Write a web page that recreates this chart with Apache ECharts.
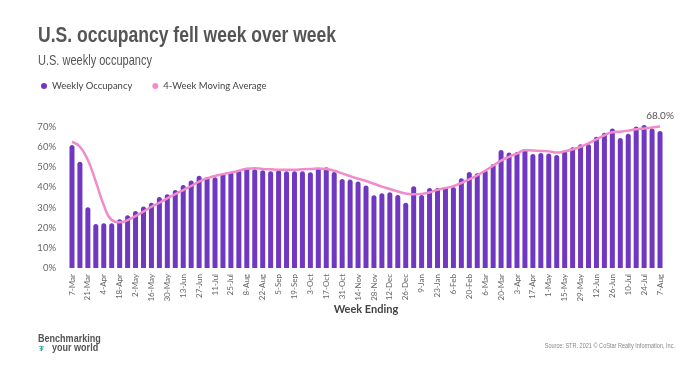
<!DOCTYPE html>
<html>
<head>
<meta charset="utf-8">
<script src="https://cdn.jsdelivr.net/npm/echarts@6/dist/echarts.min.js"></script>
<style>html,body{margin:0;padding:0;background:#fff}#c{width:700px;height:367px}</style>
</head>
<body>
<div id="c"></div>
<script>
const weeks = ['7-Mar','14-Mar','21-Mar','28-Mar','4-Apr','11-Apr','18-Apr','25-Apr','2-May','9-May','16-May','23-May','30-May','6-Jun','13-Jun','20-Jun','27-Jun','4-Jul','11-Jul','18-Jul','25-Jul','1-Aug','8-Aug','15-Aug','22-Aug','29-Aug','5-Sep','12-Sep','19-Sep','26-Sep','3-Oct','10-Oct','17-Oct','24-Oct','31-Oct','7-Nov','14-Nov','21-Nov','28-Nov','5-Dec','12-Dec','19-Dec','26-Dec',
'2-Jan','9-Jan','16-Jan','23-Jan','30-Jan','6-Feb','13-Feb','20-Feb','27-Feb','6-Mar','13-Mar','20-Mar','27-Mar','3-Apr','10-Apr','17-Apr','24-Apr','1-May','8-May','15-May','22-May','29-May','5-Jun','12-Jun','19-Jun','26-Jun','3-Jul','10-Jul','17-Jul','24-Jul','31-Jul','7-Aug'];
const weeklyOccupancy = [61.1,52.8,30.1,21.8,22.2,22.2,24.2,26.2,28.3,30.5,32.4,35.3,36.6,38.7,41.2,43.4,45.8,45.2,45.0,47.0,47.7,48.5,49.8,49.0,48.5,48.0,48.5,48.0,48.0,48.0,47.5,49.8,50.0,47.7,44.2,43.9,43.0,41.0,36.1,37.1,37.6,36.2,32.4,
40.6,36.2,39.7,39.7,40.2,40.2,44.5,47.7,47.0,48.5,51.6,58.6,57.3,57.6,59.1,56.6,57.1,56.8,56.1,58.3,59.9,61.4,61.4,65.2,67.2,69.2,64.5,66.7,70.2,71.0,69.2,68.0];
const movingAverage = [62.7,60.2,53.6,42.9,31.3,23.8,22.7,23.8,25.8,28.0,30.4,32.4,34.6,36.7,38.7,40.7,42.9,44.5,45.7,46.6,47.4,48.3,49.3,49.5,49.2,49.0,48.8,48.8,48.8,49.0,49.2,49.4,49.2,48.3,47.0,45.6,44.3,43.2,41.8,40.4,39.2,38.0,37.0,
36.6,36.8,37.5,38.8,39.7,40.6,42.2,44.0,46.0,48.3,50.8,53.3,55.2,56.8,58.5,58.3,58.1,57.9,57.3,57.9,58.9,60.2,61.9,63.9,65.9,67.4,67.7,68.2,68.9,69.2,69.7,70.2];
const yTicks = [0,10,20,30,40,50,60,70];

const barData = weeklyOccupancy.map((v,i)=> i===weeklyOccupancy.length-1
  ? {value:v, label:{show:true, position:'top', distance:10, formatter:(p)=>p.value.toFixed(1)+'%', color:'#555', fontSize:10, fontFamily:'Lato'}}
  : v);

const NARROW = 'Liberation Sans, Arial, sans-serif';
const chart = echarts.init(document.getElementById('c'), null, {renderer:'canvas'});
chart.setOption({
  animation:false,
  backgroundColor:'#fff',
  graphic:[
    {type:'text', x:38, y:25, scaleX:0.815, silent:true,
     style:{text:'U.S. occupancy fell week over week', fontFamily:NARROW, fontWeight:'bold', fontSize:21.5, fill:'#555', verticalAlign:'top'}},
    {type:'text', x:38, y:53, scaleX:0.76, silent:true,
     style:{text:'U.S. weekly occupancy', fontFamily:NARROW, fontWeight:'normal', fontSize:14.5, fill:'#555', verticalAlign:'top'}},
    {type:'text', x:38, y:334, scaleX:0.86, silent:true,
     style:{text:'Benchmarking', fontFamily:NARROW, fontWeight:'bold', fontSize:10.5, fill:'#555', verticalAlign:'top'}},
    {type:'text', x:52, y:343, scaleX:0.86, silent:true,
     style:{text:'your world', fontFamily:NARROW, fontWeight:'bold', fontSize:10.5, fill:'#555', verticalAlign:'top'}},
    {type:'text', x:39, y:345, silent:true,
     style:{text:'₮', fontFamily:NARROW, fontWeight:'bold', fontSize:8, fill:'#2ab3a6', verticalAlign:'top'}},
    {type:'text', x:675, y:342, scaleX:0.74, silent:true,
     style:{text:'Source: STR. 2021 © CoStar Realty Information, Inc.', fontFamily:NARROW, fontSize:7.5, fill:'#888', align:'right', verticalAlign:'top'}}
  ],
  legend:{
    left:36, top:76, icon:'circle', itemWidth:6, itemHeight:6, itemGap:20,
    textStyle:{fontFamily:'Lato', fontSize:9.5, color:'#444'},
    data:['Weekly Occupancy','4-Week Moving Average']
  },
  grid:{left:68, right:36, top:127, bottom:99},
  xAxis:{
    type:'category', data:weeks, boundaryGap:true,
    axisLine:{show:false}, axisTick:{show:false},
    axisLabel:{rotate:90, interval:1, fontSize:8, color:'#666', fontFamily:'Lato', margin:6},
    name:'Week Ending', nameLocation:'middle', nameGap:36, nameMoveOverlap:false,
    nameTextStyle:{fontFamily:'Lato', fontWeight:'bold', fontSize:11, color:'#444'}
  },
  yAxis:{
    type:'value', min:0, max:70, interval:10,
    splitLine:{show:false}, axisLine:{show:false}, axisTick:{show:false},
    axisLabel:{formatter:(v)=> yTicks.includes(v) ? v+'%' : '', fontSize:9.5, color:'#666', fontFamily:'Lato', margin:12}
  },
  series:[
    {name:'Weekly Occupancy', type:'bar', data:barData, barWidth:5, clip:false,
     itemStyle:{color:'#7038c0', borderRadius:[3,3,0,0]}},
    {name:'4-Week Moving Average', type:'line', data:movingAverage, smooth:0.5, clip:false,
     showSymbol:false, symbol:'circle', lineStyle:{color:'#f28bcb', width:2.5}, itemStyle:{color:'#f28bcb'}, z:3}
  ]
});
</script>
</body>
</html>
